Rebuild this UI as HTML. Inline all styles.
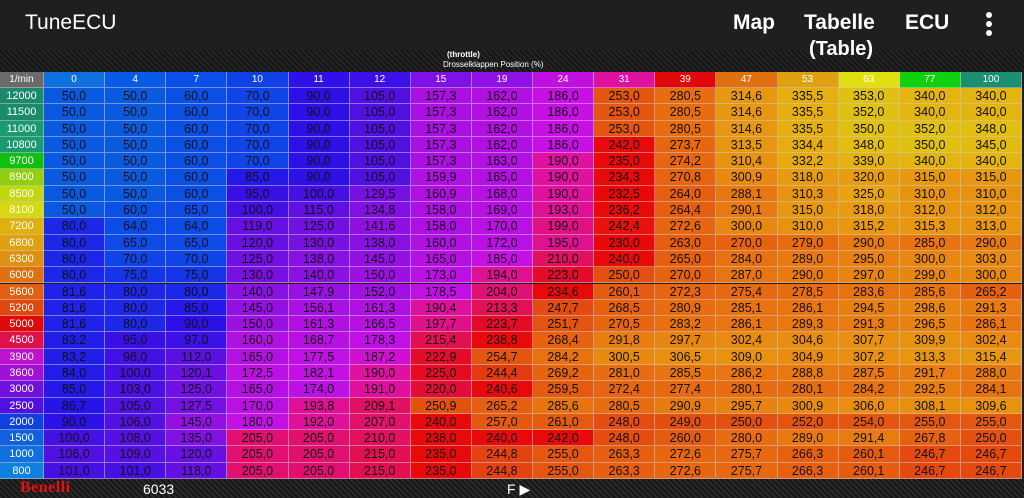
<!DOCTYPE html>
<html><head><meta charset="utf-8">
<style>
html,body{margin:0;padding:0;background:#1e1e1e;}
body{width:1024px;height:498px;overflow:hidden;position:relative;font-family:"Liberation Sans",sans-serif;}
#top{position:absolute;left:0;top:0;width:1024px;height:72px;background:linear-gradient(#1f1f1f 0,#1f1f1f 50px,#1a1a1a 72px);}
#carbon{position:absolute;left:0;top:50px;width:1024px;height:22px;background:repeating-linear-gradient(45deg,#262626 0 2px,#141414 2px 4px);opacity:.8}
.t{position:absolute;color:#fff;white-space:nowrap}
#bottom{position:absolute;left:0;top:479px;width:1024px;height:19px;background:repeating-linear-gradient(45deg,#2a2a2a 0 2px,#161616 2px 4px);}
#grid{position:absolute;left:0;top:72px;}
.c{position:absolute;box-sizing:border-box;border-right:1px solid rgba(200,200,200,.55);border-bottom:1px solid rgba(200,200,200,.55);text-align:center;font-size:12.5px;color:#111;line-height:16px;}
.h{color:#fff;font-size:10px;}
</style></head><body>
<div id="top"></div>
<div id="carbon"></div>
<div class="t" style="left:25px;top:11px;font-size:21px">TuneECU</div>
<div class="t" style="left:733px;top:11px;font-size:21px;font-weight:bold">Map</div>
<div class="t" style="left:804px;top:11px;font-size:21px;font-weight:bold">Tabelle</div>
<div class="t" style="left:809px;top:38px;font-size:20px;font-weight:bold">(Table)</div>
<div class="t" style="left:905px;top:11px;font-size:21px;font-weight:bold">ECU</div>
<div style="position:absolute;left:986px;top:12px;width:6px;height:24px;">
<div style="position:absolute;left:0;top:0;width:6px;height:6px;border-radius:3px;background:#fff"></div>
<div style="position:absolute;left:0;top:9px;width:6px;height:6px;border-radius:3px;background:#fff"></div>
<div style="position:absolute;left:0;top:18px;width:6px;height:6px;border-radius:3px;background:#fff"></div>
</div>
<div class="t" style="left:447px;top:50px;font-size:8px;font-weight:bold">(throttle)</div>
<div class="t" style="left:443px;top:60px;font-size:8px">Drosselklappen Position (%)</div>
<div id="grid"></div>
<div id="bottom"></div>
<div class="t" style="left:20px;top:479px;font-size:16px;font-weight:bold;color:#e81010;font-family:'Liberation Serif',serif;letter-spacing:0.5px">Benelli</div>
<div class="t" style="left:143px;top:481px;font-size:14px">6033</div>
<div class="t" style="left:507px;top:481px;font-size:14px">F ▶</div>
<script>
const cols=[0,4,7,10,11,12,15,19,24,31,39,47,53,63,77,100];
const rpms=[12000,11500,11000,10800,9700,8900,8500,8100,7200,6800,6300,6000,5600,5200,5000,4500,3900,3600,3000,2500,2000,1500,1000,800];
const r0=[50,50,60,70,90,105,157.3,162,186,253,280.5,314.6,335.5,353,340,340];
const r1=[50,50,60,70,90,105,157.3,162,186,253,280.5,314.6,335.5,352,340,340];
const r2=[50,50,60,70,90,105,157.3,162,186,253,280.5,314.6,335.5,350,352,348];
const r3=[50,50,60,70,90,105,157.3,162,186,242,273.7,313.5,334.4,348,350,345];
const r4=[50,50,60,70,90,105,157.3,163,190,235,274.2,310.4,332.2,339,340,340];
const r5=[50,50,60,85,90,105,159.9,165,190,234.3,270.8,300.9,318,320,315,315];
const r6=[50,50,60,95,100,129.5,160.9,168,190,232.5,264,288.1,310.3,325,310,310];
const r7=[50,60,65,100,115,134.8,158,169,193,236.2,264.4,290.1,315,318,312,312];
const r8=[80,64,64,119,125,141.6,158,170,199,242.4,272.6,300,310,315.2,315.3,313];
const r9=[80,65,65,120,130,138,160,172,195,230,263,270,279,290,285,290];
const r10=[80,70,70,125,138,145,165,185,210,240,265,284,289,295,300,303];
const r11=[80,75,75,130,140,150,173,194,223,250,270,287,290,297,299,300];
const r12=[81.6,80,80,140,147.9,152,178.5,204,234.6,260.1,272.3,275.4,278.5,283.6,285.6,265.2];
const r13=[81.6,80,85,145,156.1,161.3,190.4,213.3,247.7,268.5,280.9,285.1,286.1,294.5,298.6,291.3];
const r14=[81.6,80,90,150,161.3,166.5,197.7,223.7,251.7,270.5,283.2,286.1,289.3,291.3,296.5,286.1];
const r15=[83.2,95,97,160,168.7,178.3,215.4,238.8,268.4,291.8,297.7,302.4,304.6,307.7,309.9,302.4];
const r16=[83.2,98,112,165,177.5,187.2,222.9,254.7,284.2,300.5,306.5,309,304.9,307.2,313.3,315.4];
const r17=[84,100,120.1,172.5,182.1,190,225,244.4,269.2,281,285.5,286.2,288.8,287.5,291.7,288];
const r18=[85,103,125,165,174,191,220,240.6,259.5,272.4,277.4,280.1,280.1,284.2,292.5,284.1];
const r19=[86.7,105,127.5,170,193.8,209.1,250.9,265.2,285.6,280.5,290.9,295.7,300.9,306,308.1,309.6];
const r20=[90,106,145,180,192,207,240,257,261,248,249,250,252,254,255,255];
const r21=[100,108,135,205,205,210,238,240,242,248,260,280,289,291.4,267.8,250];
const r22=[106,109,120,205,205,215,235,244.8,255,263.3,272.6,275.7,266.3,260.1,246.7,246.7];
const r23=[101,101,118,205,205,215,235,244.8,255,263.3,272.6,275.7,266.3,260.1,246.7,246.7];
const values=[r0,r1,r2,r3,r4,r5,r6,r7,r8,r9,r10,r11,r12,r13,r14,r15,r16,r17,r18,r19,r20,r21,r22,r23];
const colHead=['#1070e0','#0a5ae8','#0a50e8','#1040e8','#3010e8','#3c10e8','#8010e8','#9010e8','#c010e0','#e010a0','#e00808','#e07010','#e0a010','#e0e010','#10d010','#1a9070'];
const rowHead=['#1a8a6a','#1a8a6a','#1a9a70','#1a9a70','#10c010','#90d010','#c0d810','#d8d810','#e0b010','#e0a010','#e09010','#e07010','#e06010','#e04810','#e00808','#e0104a','#c010d0','#a010d8','#7010e0','#5010e0','#1040e0','#1060e0','#1070e0','#1080e0'];
const stops=[[50,[10,90,224]],[70,[14,68,232]],[88,[40,16,232]],[105,[80,16,226]],[130,[120,16,226]],[160,[176,16,226]],[186,[200,16,230]],[190,[224,16,160]],[215,[226,16,80]],[230,[232,8,8]],[242,[232,10,10]],[245,[228,70,16]],[252,[228,84,16]],[280,[232,108,16]],[300,[232,136,16]],[330,[232,168,16]],[350,[224,192,16]]];
function color(v){
  if(v<=stops[0][0])return 'rgb('+stops[0][1]+')';
  for(let i=1;i<stops.length;i++){if(v<=stops[i][0]){const a=stops[i-1],b=stops[i],t=(v-a[0])/(b[0]-a[0]);return 'rgb('+a[1].map((x,k)=>Math.round(x+(b[1][k]-x)*t)).join(',')+')';}}
  return 'rgb('+stops[stops.length-1][1]+')';
}
const X0=44,CW=(1022-44)/16,HH=16,RH=(479-88)/24;
function xPos(i){return X0+i*CW;}
function yPos(r){return HH+r*RH;}
const g=document.getElementById('grid');
function cell(x,y,w,h,bg,txt,cls){const d=document.createElement('div');d.className='c '+cls;d.style.left=x+'px';d.style.top=y+'px';d.style.width=w+'px';d.style.height=h+'px';d.style.lineHeight=h+'px';d.style.background=bg;d.textContent=txt;g.appendChild(d);return d;}
let corner=cell(0,0,X0,HH,'#6a6a6a','1/min','h');


cols.forEach((c,i)=>{const d=cell(xPos(i),0,CW,HH,colHead[i],String(c),'h');

});
rpms.forEach((r,ri)=>{const d=cell(0,yPos(ri),X0,RH,rowHead[ri],String(r),'h');d.style.fontSize='11px';


values[ri].forEach((v,ci)=>{const e=cell(xPos(ci),yPos(ri),CW,RH,color(v),v.toFixed(1).replace('.',','),'v');

});});
</script>
</body></html>
